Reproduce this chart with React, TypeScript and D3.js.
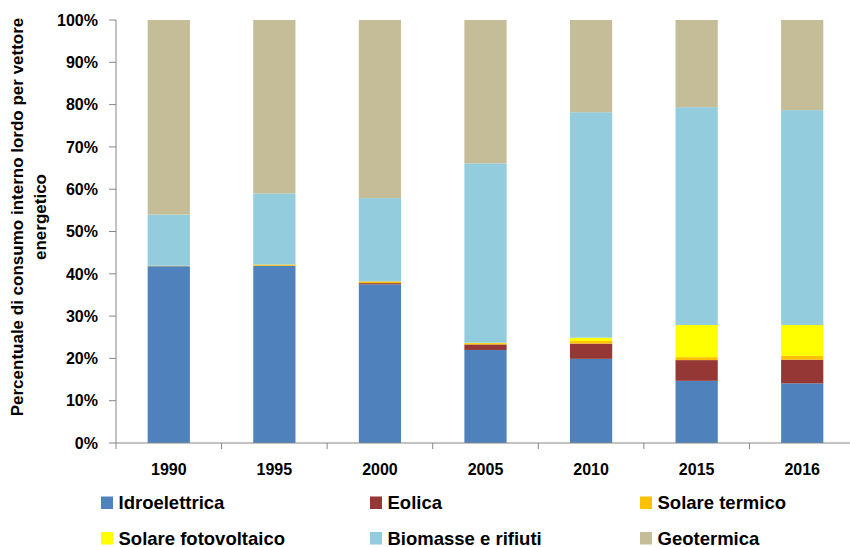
import React from "react";
import { scaleBand, scaleLinear, stack, stackOffsetExpand } from "d3";

const width = 850;
const height = 547;
const margin = { top: 20, right: -5, bottom: 104, left: 116 };
const innerWidth = width - margin.left - margin.right;
const innerHeight = height - margin.top - margin.bottom;

const years = ["1990", "1995", "2000", "2005", "2010", "2015", "2016"];
const idroelettrica = [41.8, 41.9, 37.5, 22.0, 19.9, 14.7, 14.1];
const eolica = [0, 0, 0.3, 1.3, 3.6, 4.9, 5.6];
const solareTermico = [0.1, 0.3, 0.4, 0.3, 0.6, 0.7, 0.9];
const solareFotovoltaico = [0, 0, 0, 0.1, 0.8, 7.6, 7.3];
const biomasse = [12.1, 16.8, 19.7, 42.4, 53.3, 51.5, 50.8];
const geotermica = [46.0, 41.0, 42.1, 33.9, 21.8, 20.6, 21.3];

const seriesNames = [
  "Idroelettrica",
  "Eolica",
  "Solare termico",
  "Solare fotovoltaico",
  "Biomasse e rifiuti",
  "Geotermica",
];
const seriesValues = [idroelettrica, eolica, solareTermico, solareFotovoltaico, biomasse, geotermica];
const colors = ["#4F81BD", "#953735", "#FFC000", "#FFFF00", "#93CDDD", "#C4BD97"];
const yTicks = [0, 0.1, 0.2, 0.3, 0.4, 0.5, 0.6, 0.7, 0.8, 0.9, 1];

const font = "'Liberation Sans', Arial, sans-serif";

const rows = years.map((y, i) => {
  const r: Record<string, any> = { year: y };
  seriesNames.forEach((s, j) => (r[s] = seriesValues[j][i]));
  return r;
});

const App = () => {
  const stacked = stack<any>().keys(seriesNames).offset(stackOffsetExpand)(rows);

  const xScale = scaleBand()
    .domain(years)
    .range([0, innerWidth])
    .paddingInner(0.6)
    .paddingOuter(0.3);

  const yScale = scaleLinear().domain([0, 1]).range([innerHeight, 0]);
  const step = xScale.step();

  return (
    <svg width={width} height={height} style={{ position: "absolute", left: 0, top: 0 }} fontFamily={font}>
      <rect width={width} height={height} fill="white" />
      <g transform={`translate(${margin.left},${margin.top})`}>
        {stacked.map((layer, j) =>
          layer.map((d) => (
            <rect
              key={`${j}-${d.data.year}`}
              x={xScale(d.data.year)}
              y={yScale(d[1])}
              width={xScale.bandwidth()}
              height={Math.max(0, yScale(d[0]) - yScale(d[1]))}
              fill={colors[j]}
            />
          ))
        )}
        {/* y axis */}
        <line x1={0} x2={0} y1={0} y2={innerHeight} stroke="#868686" />
        {yTicks.map((t) => (
          <g key={t} transform={`translate(0,${yScale(t)})`}>
            <line x1={-7} x2={0} stroke="#868686" />
            <text x={-18} dy="0.36em" textAnchor="end" fontSize={16} fontWeight="bold">
              {Math.round(t * 100)}%
            </text>
          </g>
        ))}
        {/* x axis */}
        <line x1={0} x2={innerWidth} y1={innerHeight} y2={innerHeight} stroke="#868686" />
        {years.map((y, i) => (
          <g key={y}>
            <line x1={i * step} x2={i * step} y1={innerHeight} y2={innerHeight + 6} stroke="#868686" />
            <text
              x={(xScale(y) ?? 0) + xScale.bandwidth() / 2}
              y={innerHeight + 32}
              textAnchor="middle"
              fontSize={16}
              fontWeight="bold"
            >
              {y}
            </text>
          </g>
        ))}
      </g>
      {/* y axis title */}
      <g transform="translate(23,217) rotate(-90)" fontSize={17} fontWeight="bold">
        <text textAnchor="middle" y={0}>Percentuale di consumo interno lordo per vettore</text>
        <text textAnchor="middle" y={23}>energetico</text>
      </g>
      {/* legend */}
      {seriesNames.map((s, j) => {
        const col = j % 3;
        const row = Math.floor(j / 3);
        const lx = [101, 370, 640][col];
        const ly = 509 + row * 35.5;
        return (
          <g key={s} transform={`translate(${lx},${ly})`}>
            <rect x={0} y={-12.5} width={12} height={12.5} fill={colors[j]} />
            <text x={17.5} y={0} fontSize={18.5} fontWeight="bold">
              {s}
            </text>
          </g>
        );
      })}
    </svg>
  );
};

export default App;
